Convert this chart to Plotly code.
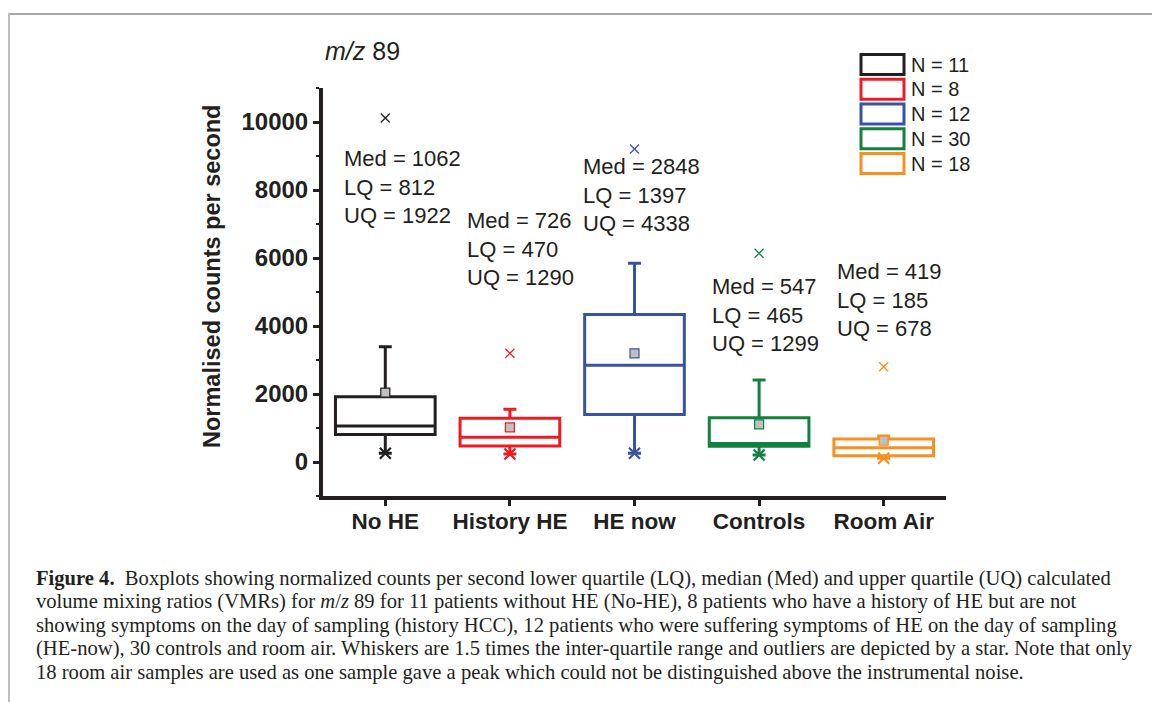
import plotly.graph_objects as go

# ---- data ----
categories = ["No HE", "History HE", "HE now", "Controls", "Room Air"]
n_values = [11, 8, 12, 30, 18]
lq = [812, 470, 1397, 465, 185]
med = [1062, 726, 2848, 547, 419]
uq = [1922, 1290, 4338, 1299, 678]
whisker_low = [256, 235, 256, 206, 109]
whisker_high = [3391, 1550, 5843, 2412, 765]
means = [2038, 1020, 3197, 1108, 627]
outliers_high = [10118, 3197, 9206, 6138, 2803]
colors = ["#231f20", "#ed1c24", "#3953a4", "#12803f", "#f7901e"]
y_ticks = [0, 2000, 4000, 6000, 8000, 10000]

# ---- geometry helpers (pixel -> paper) ----
W, H = 1152, 702
L, R, T, B = 323, 946, 88, 496
def px(x):
    return (x - L) / (R - L)
def py(y):
    return (B - y) / (B - T)

fig = go.Figure()
for i, cat in enumerate(categories):
    fig.add_trace(go.Box(
        x=[cat], q1=[lq[i]], median=[med[i]], q3=[uq[i]],
        lowerfence=[whisker_low[i]], upperfence=[whisker_high[i]],
        width=0.8, whiskerwidth=0.13,
        line=dict(color=colors[i], width=3),
        fillcolor="rgba(0,0,0,0)", boxpoints=False, showlegend=False,
        hoverinfo="skip"))
    # min markers (star at whisker end)
    fig.add_trace(go.Scatter(
        x=[cat], y=[whisker_low[i]], mode="markers", showlegend=False,
        marker=dict(symbol="x-thin", size=11, line=dict(color=colors[i], width=2.2))))
    # outliers
    fig.add_trace(go.Scatter(
        x=[cat], y=[outliers_high[i]], mode="markers", showlegend=False,
        marker=dict(symbol="x-thin", size=9, line=dict(color=colors[i], width=1.3))))
    # means
    fig.add_trace(go.Scatter(
        x=[cat], y=[means[i]], mode="markers", showlegend=False,
        marker=dict(symbol="square", size=9, color="#c0c0c0",
                    line=dict(color=colors[i], width=1.2))))

annotations = []
# stat text blocks
stat_pos = [(342, 187), (465, 249), (581, 195), (710, 315), (835, 300)]
for i in range(len(categories)):
    x0, yc = stat_pos[i]
    annotations.append(dict(
        x=px(x0), y=py(yc), xref="paper", yref="paper", xanchor="left", yanchor="middle",
        text=f"Med = {med[i]}<br>LQ = {lq[i]}<br>UQ = {uq[i]}", showarrow=False, align="left",
        font=dict(family="Arial, Liberation Sans", size=22, color="#231f20")))

# title
annotations.append(dict(x=px(323), y=py(51), xref="paper", yref="paper", xanchor="left",
                        yanchor="middle", text="<i>m/z</i> 89", showarrow=False,
                        font=dict(family="Arial, Liberation Sans", size=25, color="#231f20")))
# y title
annotations.append(dict(x=px(212), y=py(277), xref="paper", yref="paper", xanchor="center",
                        yanchor="middle", text="<b>Normalised counts per second</b>", textangle=-90,
                        showarrow=False,
                        font=dict(family="Arial, Liberation Sans", size=23.5, color="#231f20")))

shapes = []
# legend
for i, n in enumerate(n_values):
    yc = 64.5 + i * 24.75
    shapes.append(dict(type="rect", xref="paper", yref="paper",
                       x0=px(861), x1=px(904), y0=py(yc - 10), y1=py(yc + 10),
                       line=dict(color=colors[i], width=3), fillcolor="white"))
    annotations.append(dict(x=px(909), y=py(yc), xref="paper", yref="paper", xanchor="left",
                            yanchor="middle", text=f"N = {n}", showarrow=False,
                            font=dict(family="Arial, Liberation Sans", size=20, color="#231f20")))

# caption
caption = [
    "<b>Figure 4.</b>  Boxplots showing normalized counts per second lower quartile (LQ), median (Med) and upper quartile (UQ) calculated",
    "volume mixing ratios (VMRs) for <i>m</i>/<i>z</i> 89 for 11 patients without HE (No-HE), 8 patients who have a history of HE but are not",
    "showing symptoms on the day of sampling (history HCC), 12 patients who were suffering symptoms of HE on the day of sampling",
    "(HE-now), 30 controls and room air. Whiskers are 1.5 times the inter-quartile range and outliers are depicted by a star. Note that only",
    "18 room air samples are used as one sample gave a peak which could not be distinguished above the instrumental noise.",
]
for j, line in enumerate(caption):
    annotations.append(dict(x=px(34), y=py(578 + j * 23.6), xref="paper", yref="paper",
                            xanchor="left", yanchor="middle", text=line, showarrow=False,
                            font=dict(family="Liberation Serif, Times New Roman, serif", size=20.6,
                                      color="#231f20")))

# frame lines
shapes.append(dict(type="line", xref="paper", yref="paper", x0=px(9), x1=px(1160),
                   y0=py(14), y1=py(14), line=dict(color="#a8a8a8", width=2)))
shapes.append(dict(type="line", xref="paper", yref="paper", x0=px(9), x1=px(9),
                   y0=py(13), y1=py(710), line=dict(color="#bdbdbd", width=2)))

fig.update_layout(
    width=W, height=H,
    margin=dict(l=L, r=W - R, t=T, b=H - B),
    paper_bgcolor="white", plot_bgcolor="white",
    boxmode="overlay",
    annotations=annotations, shapes=shapes,
    xaxis=dict(type="category", categoryorder="array", categoryarray=categories,
               range=[-0.5, 4.5], showline=True, linewidth=4, linecolor="#231f20",
               ticks="outside", ticklen=6, tickwidth=3, tickcolor="#231f20",
               ticklabelstandoff=-4,
               showgrid=False, zeroline=False,
               tickfont=dict(family="Arial, Liberation Sans", size=22.5, color="#231f20",
                             weight="bold")),
    yaxis=dict(range=[-1000, 11000], tickvals=y_ticks, ticktext=[str(v) for v in y_ticks],
               showline=True, linewidth=4, linecolor="#231f20",
               ticks="outside", ticklen=6, tickwidth=3, tickcolor="#231f20",
               minor=dict(dtick=1000, tick0=0, ticks="outside", ticklen=3, tickwidth=2,
                          tickcolor="#231f20"),
               showgrid=False, zeroline=False,
               tickfont=dict(family="Arial, Liberation Sans", size=24, color="#231f20",
                             weight="bold")),
)
fig.write_html("out.html", post_script="document.body.style.margin='0';",
               config={"displayModeBar": False})
